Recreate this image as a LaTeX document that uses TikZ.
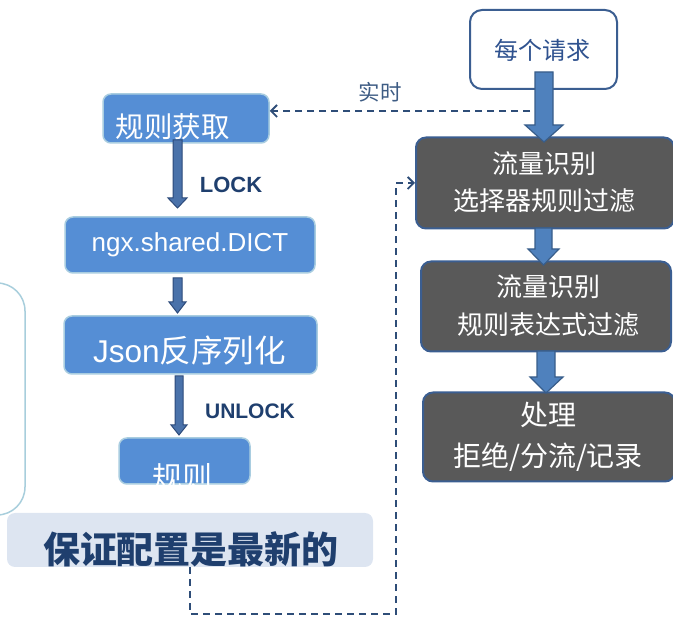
\documentclass[tikz,border=0pt]{standalone}
\usepackage{fontspec}
\setmainfont{Noto Sans CJK SC}
\newfontfamily\lat{Liberation Sans}
\usetikzlibrary{arrows.meta}
\definecolor{bluebox}{HTML}{558ED5}
\definecolor{blueedge}{HTML}{A9CDE0}
\definecolor{arrowfill}{HTML}{4F81BD}
\definecolor{arrowedge}{HTML}{385D8A}
\definecolor{smallfill}{HTML}{4A72AA}
\definecolor{smalledge}{HTML}{2C4A7A}
\definecolor{darkbox}{HTML}{595959}
\definecolor{darkedge}{HTML}{3B5E91}
\definecolor{dashcol}{HTML}{2E4D78}
\definecolor{navy}{HTML}{1F3F6E}
\definecolor{reqtext}{HTML}{2F528F}
\definecolor{rttext}{HTML}{3E5C84}
\definecolor{palebox}{HTML}{DDE5F1}
\definecolor{bracketcol}{HTML}{A8CEDC}
\tikzset{
  bluenode/.style={draw=blueedge, fill=bluebox, line width=1.5pt, rounded corners=8pt, inner sep=0pt},
  darknode/.style={draw=darkedge, fill=darkbox, line width=2pt, rounded corners=10pt, inner sep=0pt},
  reqnode/.style={draw=darkedge, fill=white, line width=2pt, rounded corners=12pt, inner sep=0pt},
  palenode/.style={draw=none, fill=palebox, rounded corners=8pt, inner sep=0pt},
  wtext/.style={text=white, inner sep=0pt},
  bigarrow/.style={fill=arrowfill, draw=arrowedge, line width=1.2pt, line join=miter},
  smallarrow/.style={fill=smallfill, draw=smalledge, line width=1pt, line join=miter},
  dashlink/.style={draw=dashcol, line width=1.6pt, dash pattern=on 7pt off 5pt},
  opentip/.style={-{Straight Barb[length=6pt,width=12pt,line width=1.8pt]}},
  boldlabel/.style={text=navy, inner sep=0pt, font=\lat\bfseries\fontsize{22}{24}\selectfont}
}
\begin{document}
\begin{tikzpicture}[x=1pt,y=-1pt]
\useasboundingbox (0,0) rectangle (673,617);
\clip (0,0) rectangle (673,617);
% left bracket
\draw[bracketcol, line width=1.5pt, rounded corners=28pt] (-60,283) rectangle (25,515);
% left column boxes
\node[bluenode, minimum width=166pt, minimum height=49pt] (get) at (186,118.5) {};
\node[bluenode, minimum width=250pt, minimum height=56pt] (dict) at (190,245) {};
\node[bluenode, minimum width=253pt, minimum height=58pt] (json) at (190.5,345) {};
\node[bluenode, minimum width=131pt, minimum height=46pt] (rule) at (184.5,461) {};
\node[palenode, minimum width=366pt, minimum height=54pt] (keep) at (190,540) {};
% right column boxes
\node[reqnode, minimum width=147pt, minimum height=79pt] (req) at (543.5,49.5) {};
\node[darknode, minimum width=258pt, minimum height=91pt] (f1) at (545,183) {};
\node[darknode, minimum width=250pt, minimum height=90pt] (f2) at (546,306.5) {};
\node[darknode, minimum width=252pt, minimum height=89pt] (f3) at (549,437) {};
% big arrows
\draw[bigarrow] (535,72) -- (553,72) -- (553,125) -- (563,125) -- (544,142) -- (525,125) -- (535,125) -- cycle;
\draw[bigarrow] (535,228) -- (552,228) -- (552,249) -- (559,249) -- (543.5,265) -- (528,249) -- (535,249) -- cycle;
\draw[bigarrow] (537,351) -- (555,351) -- (555,377) -- (563,377) -- (546,393) -- (530,377) -- (537,377) -- cycle;
% small arrows
\draw[smallarrow] (173,140) -- (182,140) -- (182,198) -- (187,198) -- (177.5,208) -- (168,198) -- (173,198) -- cycle;
\draw[smallarrow] (173,278) -- (182,278) -- (182,302) -- (186,302) -- (177.5,313) -- (169,302) -- (173,302) -- cycle;
\draw[smallarrow] (175,376) -- (183,376) -- (183,425) -- (187,425) -- (179,435) -- (171,425) -- (175,425) -- cycle;
% dashed links
\coordinate (rtstart) at (530,111);
\draw[dashlink, opentip] (rtstart) -- (get.east |- rtstart);
\coordinate (d1) at (190,614);
\coordinate (d2) at (396,614);
\coordinate (d3) at (396,183);
\draw[dashlink, opentip] (keep.south -| d1) -- (d1) -- (d2) -- (d3) -- (f1.west |- d3);
% texts
\node[wtext, font=\fontsize{28.5}{30}\selectfont] (getT) at (172.5,127) {规则获取};
\node[boldlabel] (lock) at (231,185) {LOCK};
\node[wtext, font=\lat\fontsize{26}{28}\selectfont] (dictT) at (dict.center) {ngx.shared.DICT};
\node[wtext, font=\fontsize{31.5}{33}\selectfont] (jsonT) at (189.5,351) {{\lat Json}反序列化};
\node[boldlabel, font=\lat\bfseries\fontsize{21}{23}\selectfont] (unlock) at (250,411) {UNLOCK};
\begin{scope}
\clip[rounded corners=8pt] (rule.south west) rectangle (rule.north east);
\node[wtext, font=\fontsize{30}{32}\selectfont] (ruleT) at (182.5,477) {规则};
\end{scope}
\node[text=navy, inner sep=0pt, font=\bfseries\fontsize{37}{40}\selectfont] (keepT) at (191,549) {保证配置是最新的};
\node[text=reqtext, inner sep=0pt, font=\fontsize{24}{26}\selectfont] (reqT) at (542.5,50) {每个请求};
\node[text=rttext, inner sep=0pt, font=\fontsize{21.5}{23}\selectfont] (rt) at (380,92) {实时};
\node[wtext, align=center, font=\fontsize{26}{37}\selectfont] (f1T) at (544,182) {流量识别\\选择器规则过滤};
\node[wtext, align=center, font=\fontsize{26}{38}\selectfont] (f2T) at (548,306) {流量识别\\规则表达式过滤};
\node[wtext, align=center, font=\fontsize{28}{41}\selectfont] (f3T) at (548,437) {处理\\拒绝/分流/记录};
\end{tikzpicture}
\end{document}
